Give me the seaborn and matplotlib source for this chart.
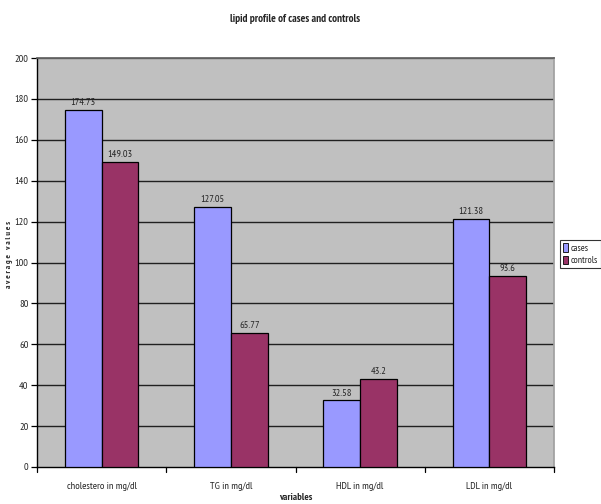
import matplotlib
matplotlib.use("Agg")
import matplotlib.pyplot as plt
from matplotlib import font_manager
import seaborn as sns
import pandas as pd

categories = ["cholestero in mg/dl", "TG in mg/dl", "HDL in mg/dl", "LDL in mg/dl"]
cases = [174.73, 127.05, 32.58, 121.38]
controls = [149.03, 65.77, 43.2, 93.6]
series = ["cases", "controls"]
yticks = [0, 20, 40, 60, 80, 100, 120, 140, 160, 180, 200]

df = pd.DataFrame({
    "variable": categories * 2,
    "value": cases + controls,
    "group": ["cases"] * len(cases) + ["controls"] * len(controls),
})

sns.set_theme(style="white")

# narrow sans-serif face that also ships a bold weight
def _is_bold(w):
    return (w >= 700) if isinstance(w, int) else str(w).lower() in ("bold", "heavy", "black")

entries = font_manager.fontManager.ttflist
preferred = ["Liberation Sans Narrow", "Arial Narrow", "Archivo Narrow", "PT Sans Narrow",
             "Roboto Condensed", "IBM Plex Sans Condensed", "Fira Sans Condensed",
             "Asap Condensed", "Encode Sans Condensed", "Liberation Sans"]
families = [f for f in preferred
            if any(e.name == f and _is_bold(e.weight) for e in entries)
            and any(e.name == f and not _is_bold(e.weight) for e in entries)]
plt.rcParams["font.family"] = families[:1] + ["Liberation Sans", "DejaVu Sans"]

fig = plt.figure(figsize=(6.01, 5.04), dpi=100)
ax = fig.add_axes([37 / 601, 1 - 467 / 504, (554 - 37) / 601, (467 - 58) / 504])
ax.set_facecolor("#C0C0C0")

palette = {"cases": "#9999FF", "controls": "#993366"}
sns.barplot(data=df, x="variable", y="value", hue="group", hue_order=series,
            palette=palette, width=0.57, gap=0, edgecolor="black", linewidth=0.9,
            saturation=1, ax=ax, legend=True, zorder=3)

ax.set_ylim(0, 200)
ax.set_xlim(-0.5, len(categories) - 0.5)
ax.set_yticks(yticks)
ax.set_yticklabels([str(t) for t in yticks], fontsize=7.5)
for t in yticks[1:]:
    ax.axhline(t, color="#202020" if t < 200 else "#606060", linewidth=1.0, zorder=1)

# category labels centred, tick marks on group boundaries
ax.set_xticks(range(len(categories)))
ax.set_xticklabels(categories, fontsize=7.5)
ax.tick_params(axis="x", length=0, pad=11)
for b in range(len(categories) + 1):
    ax.plot([b - 0.5, b - 0.5], [0, -0.012], transform=ax.get_xaxis_transform(),
            color="black", linewidth=0.9, clip_on=False)
ax.tick_params(axis="y", length=4, width=0.9, color="black", left=True, pad=2)

for c in ax.containers:
    ax.bar_label(c, labels=[f"{v:g}" for v in c.datavalues], fontsize=7.5, padding=2)

for s in ["left", "bottom"]:
    ax.spines[s].set_color("black")
    ax.spines[s].set_linewidth(1.0)
ax.spines["right"].set_color("#A0A0A0")
ax.spines["top"].set_color("#606060")

ax.set_xlabel("variables", fontsize=7.5, fontweight="bold")
ax.xaxis.set_label_coords(0.5, -(497 - 467) / 409, transform=ax.transAxes)
ax.xaxis.label.set_va("center")
ax.set_ylabel("a v e r a g e   v a l u e s", fontsize=6, fontweight="bold")
ax.yaxis.set_label_coords(-(37 - 10) / 517, 0.52)
ax.yaxis.label.set_va("center")

fig.suptitle("lipid profile of cases and controls", x=(37 + 554) / 2 / 601, y=1 - 19 / 504,
             va="center", fontsize=8, fontweight="bold")

leg = ax.legend(loc="center left", bbox_to_anchor=(1.011, 0.52), fontsize=7, frameon=True,
                fancybox=False, edgecolor="black", handlelength=0.55, handleheight=1.0,
                handletextpad=0.3, borderpad=0.3, borderaxespad=0, labelspacing=0.3)
leg.get_frame().set_linewidth(0.8)
for h in leg.legend_handles:
    h.set_edgecolor("black")
    h.set_linewidth(0.6)

fig.savefig("out.png", dpi=100, facecolor="white")
